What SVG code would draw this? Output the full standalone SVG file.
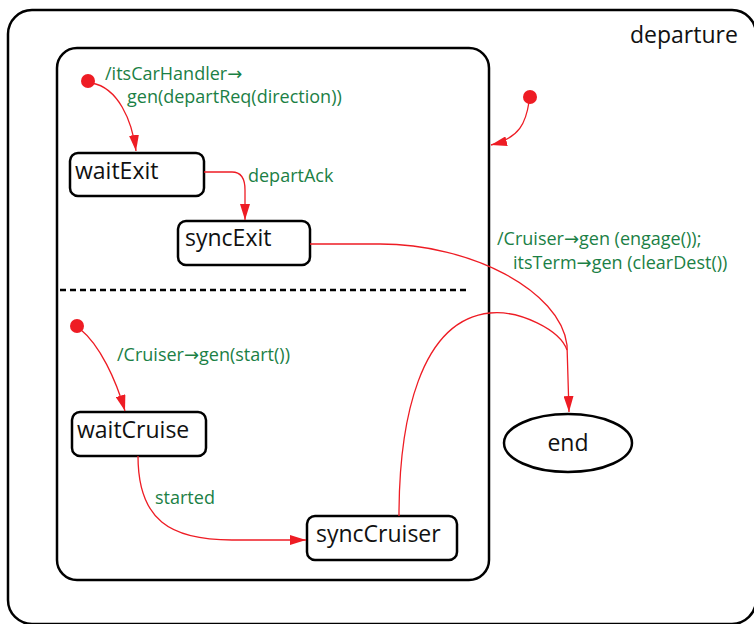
<svg xmlns="http://www.w3.org/2000/svg" width="754" height="624" viewBox="0 0 754 624">
  <style>
    .box { fill: #fff; stroke: #000; stroke-width: 2.5; }
    .frame { fill: none; stroke: #000; stroke-width: 2.5; }
    .name { font-family: "Open Sans", "Liberation Sans", sans-serif; font-size: 23px; fill: #111; }
    .lbl { font-family: "Open Sans", "Liberation Sans", sans-serif; font-size: 18px; fill: #1b8045; }
    .ar { font-family: "DejaVu Sans", sans-serif; font-size: 18px; }
    .tr { fill: none; stroke: #ee1c24; stroke-width: 1.3; }
    .dot { fill: #ee1c24; }
  </style>
  <defs>
    <marker id="arrow" viewBox="0 0 16 10" refX="16" refY="5" markerWidth="16" markerHeight="10" markerUnits="userSpaceOnUse" orient="auto">
      <path d="M0,0 L16,5 L0,10 Z" fill="#ee1c24"/>
    </marker>
  </defs>

  <!-- outer composite state -->
  <g id="departure">
    <rect class="frame" x="8" y="10" width="748" height="614" rx="24"/>
    <text class="name" x="630" y="43">departure</text>
  </g>

  <!-- orthogonal regions container -->
  <g id="regions">
    <rect class="frame" x="57" y="48" width="432" height="532" rx="20"/>
    <line x1="60" y1="290" x2="470" y2="290" stroke="#000" stroke-width="2.5" stroke-dasharray="6,4"/>
  </g>

  <g id="init1"><circle class="dot" cx="88" cy="81" r="7"/></g>
  <g id="init2"><circle class="dot" cx="530" cy="97" r="7"/></g>
  <g id="init3"><circle class="dot" cx="77" cy="326" r="7"/></g>

  <g id="waitExit">
    <rect class="box" x="70" y="153" width="134" height="43" rx="8"/>
    <text class="name" x="75" y="179">waitExit</text>
  </g>
  <g id="syncExit">
    <rect class="box" x="178" y="221" width="132" height="44" rx="8"/>
    <text class="name" x="185" y="246">syncExit</text>
  </g>
  <g id="waitCruise">
    <rect class="box" x="72" y="412" width="134" height="44" rx="8"/>
    <text class="name" x="77" y="438">waitCruise</text>
  </g>
  <g id="syncCruiser">
    <rect class="box" x="307" y="516" width="150" height="44" rx="8"/>
    <text class="name" x="316" y="542">syncCruiser</text>
  </g>
  <g id="end">
    <ellipse class="box" cx="568" cy="443" rx="64" ry="29"/>
    <text class="name" x="568" y="451" text-anchor="middle">end</text>
  </g>

  <!-- transitions -->
  <g id="connectors">
    <path class="tr" d="M92,83 C118,88 132,120 136,151" marker-end="url(#arrow)"/>
    <path class="tr" d="M529,102 C526,122 520,138 491,145" marker-end="url(#arrow)"/>
    <path class="tr" d="M80,329 C100,345 116,380 125,411" marker-end="url(#arrow)"/>
    <path class="tr" d="M204,172 L232,172 C242,172 245,180 245,190 L245,220" marker-end="url(#arrow)"/>
    <path class="tr" d="M138,456 C138,520 170,540 232,540 L306,540" marker-end="url(#arrow)"/>
    <path class="tr" d="M310,244 L380,244 C470,244 560,290 567,345 L569,412" marker-end="url(#arrow)"/>
    <path class="tr" d="M399,516 C399,420 420,320 490,313 C520,310 560,330 567,350"/>
  </g>

  <!-- transition labels -->
  <g id="labels">
    <text class="lbl" x="105" y="80">/itsCarHandler<tspan class="ar">→</tspan></text>
    <text class="lbl" x="127" y="103">gen(departReq(direction))</text>
    <text class="lbl" x="248" y="182">departAck</text>
    <text class="lbl" x="497" y="245">/Cruiser<tspan class="ar">→</tspan>gen (engage());</text>
    <text class="lbl" x="513" y="269">itsTerm<tspan class="ar">→</tspan>gen (clearDest())</text>
    <text class="lbl" x="117" y="361">/Cruiser<tspan class="ar">→</tspan>gen(start())</text>
    <text class="lbl" x="155" y="504">started</text>
  </g>
</svg>
